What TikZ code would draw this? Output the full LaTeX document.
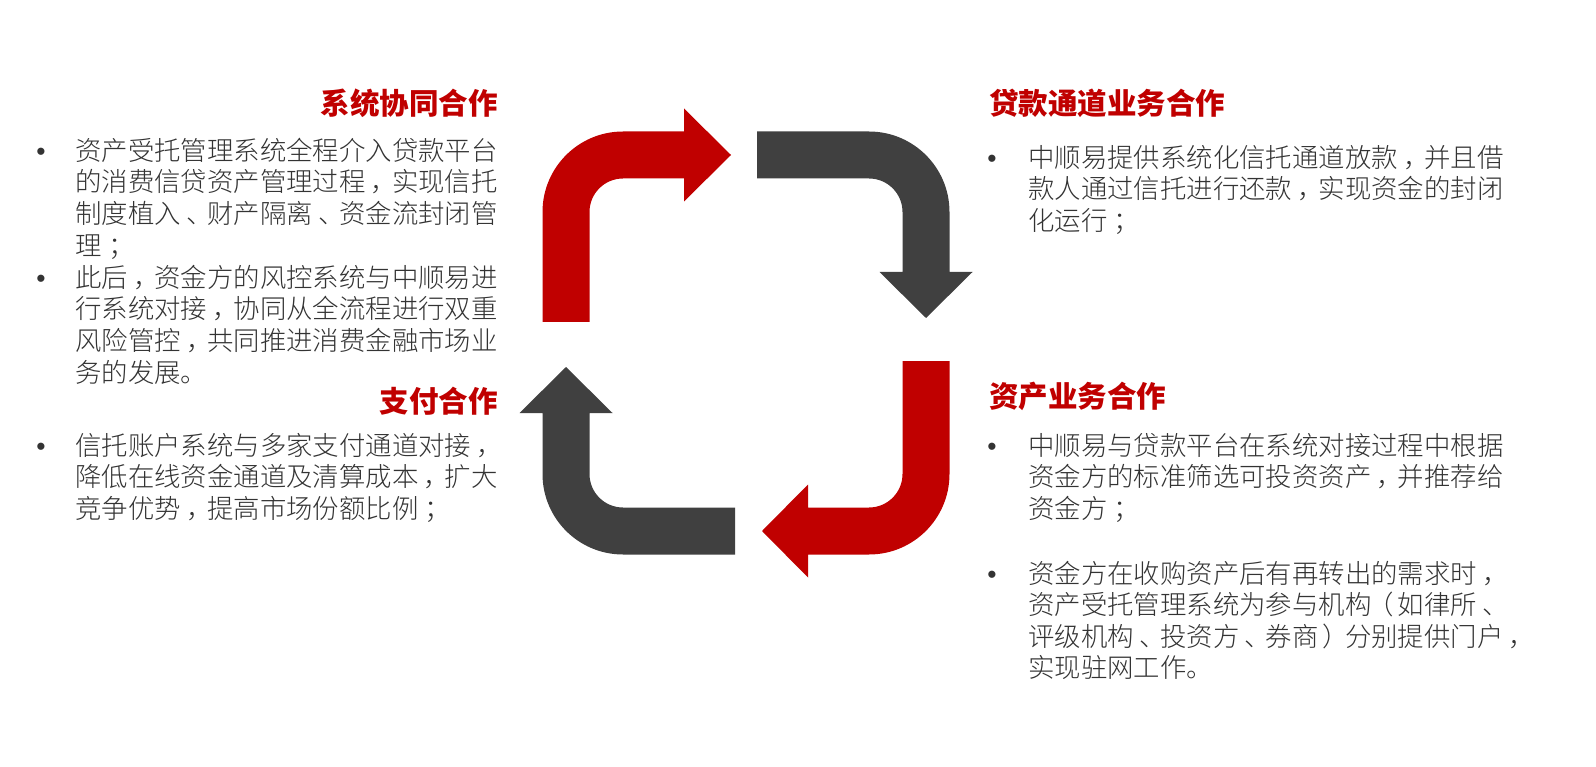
\documentclass[tikz,border=0pt]{standalone}
\usepackage{fontspec}
\newfontfamily\cjk{Noto Sans CJK SC}[UprightFont={* Light}, BoldFont={* Bold}]
\newfontfamily\cjkb{Noto Sans CJK SC}
\newfontfamily\latinsans{Liberation Sans}
\definecolor{rd}{HTML}{C00000}
\definecolor{dk}{HTML}{404040}
\definecolor{tx}{HTML}{333333}
\newcommand\zc{\hspace{0.2em}，\hspace{-0.2em}}
\newcommand\zd{\hspace{0.2em}、\hspace{-0.2em}}
\newcommand\zs{\hspace{0.25em}；\hspace{-0.25em}}
\newcommand\zl{\hspace{-0.15em}（\hspace{0.15em}}
\newcommand\zr{\hspace{0.15em}）\hspace{-0.15em}}
\tikzset{
  body/.style={anchor=base west, inner sep=0pt, text=tx, font=\cjk\fontsize{26.4}{31.7}\selectfont},
  ttl/.style={inner sep=0pt, text=rd, font=\cjkb\bfseries\fontsize{29.5}{34}\selectfont},
  bul/.style={anchor=base, inner sep=0pt, text=tx, font=\latinsans\fontsize{26.4}{31.7}\selectfont},
  redarrow/.style={fill=rd},
  darkarrow/.style={fill=dk}
}
\begin{document}
\begin{tikzpicture}[x=1pt,y=-1pt]
\useasboundingbox (0,0) rectangle (1596,767);
\fill[white] (0,0) rectangle (1596,767);

% top-left red arrow
\fill[redarrow] (542.5,322) -- (542.5,212) arc[start angle=180,end angle=270,radius=80.5]
  -- (684,131.5) -- (684,108.5) -- (731,155) -- (684,201.5) -- (684,178.5) -- (623,178.5)
  arc[start angle=270,end angle=180,radius=33.5] -- (589.5,322) -- cycle;
% top-right dark arrow
\fill[darkarrow] (757,131.5) -- (869,131.5) arc[start angle=270,end angle=360,radius=80.5]
  -- (949.5,272) -- (972.5,272) -- (926,318) -- (879.5,272) -- (902.5,272) -- (902.5,212)
  arc[start angle=0,end angle=-90,radius=33.5] -- (757,178.5) -- cycle;
% bottom-right red arrow
\fill[redarrow] (949.5,361) -- (949.5,474) arc[start angle=0,end angle=90,radius=80.5]
  -- (808,554.5) -- (808,577.5) -- (762,531) -- (808,484.5) -- (808,507.5) -- (869,507.5)
  arc[start angle=90,end angle=0,radius=33.5] -- (902.5,361) -- cycle;
% bottom-left dark arrow
\fill[darkarrow] (735,554.5) -- (623,554.5) arc[start angle=90,end angle=180,radius=80.5]
  -- (542.5,413) -- (519.5,413) -- (566,367) -- (612.5,413) -- (589.5,413) -- (589.5,474)
  arc[start angle=180,end angle=90,radius=33.5] -- (735,507.5) -- cycle;

% titles
\node[ttl, anchor=base east] (t1) at (498,114.5) {系统协同合作};
\node[ttl, anchor=base east] (t2) at (498,412.5) {支付合作};
\node[ttl, anchor=base west] (t3) at (989,114.5) {贷款通道业务合作};
\node[ttl, anchor=base west] (t4) at (989,407.5) {资产业务合作};

% left upper block
\node[bul] (b1) at (41,160.3) {•};
\node[bul] (b2) at (41,287.1) {•};
\foreach \t [count=\i] in {资产受托管理系统全程介入贷款平台,的消费信贷资产管理过程\zc 实现信托,制度植入\zd 财产隔离\zd 资金流封闭管,理\zs,此后\zc 资金方的风控系统与中顺易进,行系统对接\zc 协同从全流程进行双重,风险管控\zc 共同推进消费金融市场业,务的发展。}
  \node[body] (la\i) at (75,{160.3+31.7*(\i-1)}) {\t};

% left lower block
\node[bul] (b3) at (41,455.3) {•};
\foreach \t [count=\i] in {信托账户系统与多家支付通道对接\zc,降低在线资金通道及清算成本\zc 扩大,竞争优势\zc 提高市场份额比例\zs}
  \node[body] (lb\i) at (75,{455.3+31.5*(\i-1)}) {\t};

% right upper block
\node[bul] (b4) at (992,167.3) {•};
\foreach \t [count=\i] in {中顺易提供系统化信托通道放款\zc 并且借,款人通过信托进行还款\zc 实现资金的封闭,化运行\zs}
  \node[body] (ra\i) at (1028,{167.3+31.5*(\i-1)}) {\t};

% right lower block
\node[bul] (b5) at (992,455.3) {•};
\foreach \t [count=\i] in {中顺易与贷款平台在系统对接过程中根据,资金方的标准筛选可投资资产\zc 并推荐给,资金方\zs}
  \node[body] (rb\i) at (1028,{455.3+31.5*(\i-1)}) {\t};
\node[bul] (b6) at (992,583.3) {•};
\foreach \t [count=\i] in {资金方在收购资产后有再转出的需求时\zc,资产受托管理系统为参与机构\zl 如律所\zd,评级机构\zd 投资方\zd 券商\zr 分别提供门户\zc,实现驻网工作。}
  \node[body] (rc\i) at (1028,{583.3+31.5*(\i-1)}) {\t};
\end{tikzpicture}
\end{document}
